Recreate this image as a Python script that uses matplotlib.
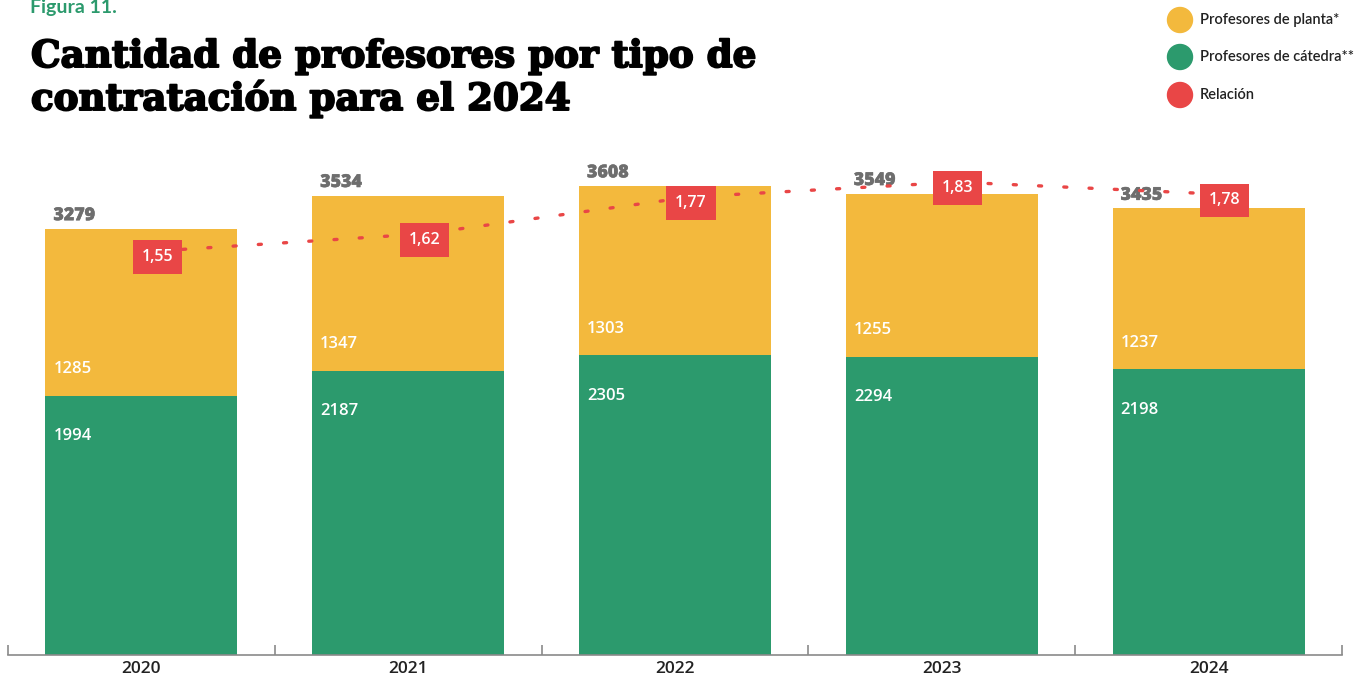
import matplotlib
matplotlib.use("Agg")
import matplotlib.pyplot as plt
import matplotlib.patheffects as pe
from matplotlib.patches import Circle

# Data
years = ["2020", "2021", "2022", "2023", "2024"]
catedra = [1994, 2187, 2305, 2294, 2198]
planta = [1285, 1347, 1303, 1255, 1237]
totales = [3279, 3534, 3608, 3549, 3435]
relacion = [1.55, 1.62, 1.77, 1.83, 1.78]
relacion_txt = ["1,55", "1,62", "1,77", "1,83", "1,78"]

ORANGE = "#F3B93D"
GREEN = "#2C9A6D"
RED = "#E94646"
GRAY = "#6E6E6E"
NUM_FONT = "Open Sans"

plt.rcParams["lines.scale_dashes"] = False

W, H = 1365, 679
fig = plt.figure(figsize=(W / 100, H / 100), dpi=100)
ax = fig.add_axes([8 / W, 1 - 655 / H, (1342 - 8) / W, (655 - 140) / H])

x = list(range(len(years)))
bw = 0.72
ax.bar(x, catedra, width=bw, color=GREEN, zorder=2)
ax.bar(x, planta, width=bw, bottom=catedra, color=ORANGE, zorder=2)

ax.set_xlim(-0.5, len(years) - 0.5)
ax.set_ylim(0, 3961.5)

for i in x:
    left = i - bw / 2
    ax.annotate(str(totales[i]), (left, totales[i]), xytext=(5.8, 9.4),
                textcoords="offset points", ha="left", va="center",
                fontsize=12.8, fontweight="heavy", color=GRAY, family=NUM_FONT, zorder=3,
                path_effects=[pe.withStroke(linewidth=0.35, foreground=GRAY)])
    ax.annotate(str(planta[i]), (left, catedra[i]), xytext=(5.8, 19),
                textcoords="offset points", ha="left", va="center",
                fontsize=12, fontweight="semibold", color="white", family=NUM_FONT, zorder=3)
    ax.annotate(str(catedra[i]), (left, catedra[i]), xytext=(5.8, -29),
                textcoords="offset points", ha="left", va="center",
                fontsize=12, fontweight="semibold", color="white", family=NUM_FONT, zorder=3)

# Relation line on secondary axis
ax2 = ax.twinx()
ax2.set_ylim(-0.0923, 2.0012)
xr = [i + 0.06 for i in x]
ax2.plot(xr, relacion, color=RED, linewidth=2.4, dashes=(2.2, 16),
         dash_capstyle="round", zorder=3)
for xi, v, t in zip(xr, relacion, relacion_txt):
    ax2.annotate(t, (xi, v), xytext=(0, -4.3), textcoords="offset points",
                 ha="center", va="center", fontsize=11.5, fontweight="semibold",
                 color="white", family=NUM_FONT, zorder=5,
                 bbox=dict(boxstyle="square,pad=0.55", fc=RED, ec="none"))
ax2.set_yticks([])
for a in (ax, ax2):
    for s in ("top", "right", "left"):
        a.spines[s].set_visible(False)
ax2.spines["bottom"].set_visible(False)

ax.set_yticks([])
ax.spines["bottom"].set_color("#8A8A8A")
ax.spines["bottom"].set_linewidth(1.2)
ax.set_xticks(x)
ax.set_xticklabels(years, fontsize=12.5, fontweight="semibold", color="#222222", family=NUM_FONT)
ax.tick_params(axis="x", which="major", length=0, pad=4)
ax.set_xticks([i - 0.5 for i in range(len(years) + 1)], minor=True)
ax.tick_params(axis="x", which="minor", direction="in", length=7.2, width=1.2, color="#8A8A8A")

# Overlay for title and legend (pixel coordinates)
ov = fig.add_axes([0, 0, 1, 1], zorder=10)
ov.set_xlim(0, W)
ov.set_ylim(H, 0)
ov.axis("off")

ov.text(30, 13, "Figura 11.", fontsize=14, fontweight="bold", color=GREEN,
        family="Lato", ha="left", va="baseline")
title_fx = [pe.withStroke(linewidth=1.4, foreground="black")]
ov.text(31, 67, "Cantidad de profesores por tipo de", fontsize=26.8,
        fontweight="heavy", family="DejaVu Serif", color="black", ha="left",
        va="baseline", path_effects=title_fx)
ov.text(31, 110, "contratación para el 2024", fontsize=26.8,
        fontweight="heavy", family="DejaVu Serif", color="black", ha="left",
        va="baseline", path_effects=title_fx)

leg_items = [("Profesores de planta*", ORANGE, 20),
             ("Profesores de cátedra**", GREEN, 57),
             ("Relación", RED, 95)]
for label, col, yy in leg_items:
    ov.add_patch(Circle((1180, yy), 12.5, color=col))
    ov.text(1200, yy, label, fontsize=10.5, family="Lato", fontweight="semibold",
            color="#222222", ha="left", va="center")

fig.savefig("out.png", dpi=100)
